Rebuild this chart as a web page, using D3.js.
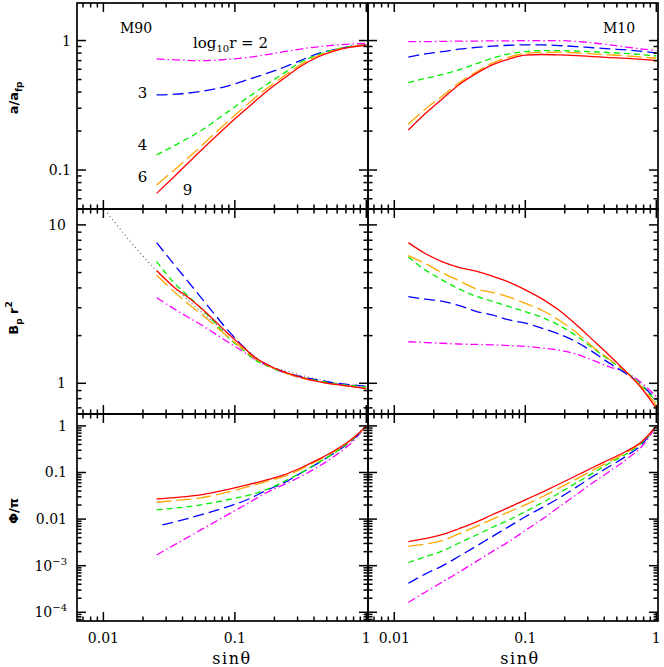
<!DOCTYPE html>
<html><head><meta charset="utf-8">
<script src="https://cdn.jsdelivr.net/npm/d3@7"></script>
<style>html,body{margin:0;padding:0;background:#fff;}</style>
</head><body>
<svg id="chart" width="664" height="667"></svg>
<script>
// ---------------- DATA ----------------
const seriesNames = ["2", "3", "4", "6", "9"];   // log10 r
// M90 (left column)
const sM90_a = [0.0254, 0.035, 0.055, 0.0877, 0.124, 0.177, 0.236, 0.316, 0.424, 0.567, 0.76, 1.0];
const aM90_r2 = [0.722, 0.71, 0.70, 0.715, 0.74, 0.78, 0.82, 0.86, 0.895, 0.92, 0.94, 0.95];
const aM90_r3 = [0.38, 0.385, 0.405, 0.445, 0.497, 0.56, 0.622, 0.70, 0.789, 0.85, 0.90, 0.925];
const aM90_r4 = [0.131, 0.155, 0.201, 0.28, 0.36, 0.462, 0.56, 0.68, 0.775, 0.848, 0.90, 0.925];
const aM90_r6 = [0.0766, 0.101, 0.152, 0.235, 0.32, 0.43, 0.53, 0.65, 0.76, 0.84, 0.895, 0.925];
const aM90_r9 = [0.066, 0.09, 0.141, 0.22, 0.30, 0.41, 0.51, 0.63, 0.743, 0.83, 0.89, 0.92];

const sM90_b = [0.0254, 0.035, 0.0435, 0.055, 0.0693, 0.0877, 0.11, 0.14, 0.18, 0.236, 0.32, 0.424, 0.6, 0.8, 1.0];
const bM90_r2 = [3.47, 2.93, 2.63, 2.35, 2.08, 1.83, 1.63, 1.43, 1.28, 1.17, 1.08, 1.03, 0.99, 0.97, 0.955];
const bM90_r3 = [7.73, 5.55, 4.45, 3.5, 2.76, 2.18, 1.78, 1.47, 1.3, 1.18, 1.1, 1.05, 1.0, 0.975, 0.955];
const bM90_r4 = [5.87, 4.25, 3.6, 2.98, 2.45, 1.97, 1.68, 1.42, 1.28, 1.17, 1.09, 1.04, 0.99, 0.965, 0.945];
const bM90_r6 = [4.83, 3.75, 3.2, 2.75, 2.34, 1.98, 1.7, 1.45, 1.29, 1.17, 1.08, 1.03, 0.98, 0.95, 0.925];
const bM90_r9 = [5.15, 4.0, 3.52, 3.0, 2.51, 2.08, 1.76, 1.47, 1.3, 1.18, 1.09, 1.03, 0.98, 0.95, 0.925];
const sDotted = [0.0107, 0.0242, 0.04, 0.07, 0.1, 0.157, 0.28, 0.5, 0.75, 1.0];
const bDotted = [11.9, 5.35, 3.6, 2.4, 1.9, 1.38, 1.16, 1.03, 0.97, 0.93];

const sM90_p = [0.0254, 0.035, 0.055, 0.0877, 0.124, 0.177, 0.236, 0.316, 0.424, 0.567, 0.76, 0.9, 1.0];
const sM90_p3 = [0.0281, 0.035, 0.055, 0.0877, 0.124, 0.177, 0.236, 0.316, 0.424, 0.567, 0.76, 0.9, 1.0];
const pM90_r2 = [0.0017, 0.00284, 0.00585, 0.0123, 0.0214, 0.038, 0.055, 0.0817, 0.13, 0.22, 0.42, 0.70, 1.0];
const pM90_r3 = [0.0075, 0.0087, 0.0123, 0.0183, 0.026, 0.0423, 0.06, 0.0965, 0.155, 0.259, 0.46, 0.72, 1.0];
const pM90_r4 = [0.0158, 0.0172, 0.0202, 0.026, 0.032, 0.044, 0.064, 0.097, 0.158, 0.26, 0.47, 0.73, 1.0];
const pM90_r6 = [0.023, 0.025, 0.0285, 0.038, 0.049, 0.065, 0.082, 0.117, 0.178, 0.28, 0.49, 0.74, 1.0];
const pM90_r9 = [0.0271, 0.029, 0.033, 0.043, 0.054, 0.07, 0.089, 0.125, 0.186, 0.29, 0.50, 0.75, 1.0];

// M10 (right column)
const sM10 = [0.0128, 0.0172, 0.0231, 0.031, 0.042, 0.0558, 0.075, 0.1, 0.135, 0.18, 0.244, 0.327, 0.438, 0.589, 0.78, 1.0];
const aM10_r2 = [0.98, 0.98, 0.985, 0.99, 0.99, 0.995, 0.995, 1.0, 1.0, 1.0, 0.985, 0.96, 0.926, 0.89, 0.86, 0.837];
const aM10_r3 = [0.744, 0.79, 0.82, 0.858, 0.885, 0.905, 0.92, 0.926, 0.925, 0.915, 0.899, 0.88, 0.862, 0.847, 0.825, 0.80];
const aM10_r4 = [0.473, 0.51, 0.545, 0.593, 0.66, 0.73, 0.79, 0.822, 0.835, 0.837, 0.83, 0.82, 0.808, 0.795, 0.778, 0.76];
const aM10_r6 = [0.226, 0.295, 0.37, 0.469, 0.57, 0.669, 0.745, 0.795, 0.81, 0.813, 0.805, 0.79, 0.775, 0.762, 0.745, 0.73];
const aM10_r9 = [0.204, 0.272, 0.352, 0.454, 0.555, 0.649, 0.72, 0.772, 0.78, 0.775, 0.765, 0.752, 0.739, 0.728, 0.715, 0.70];

const bM10_r2 = [1.83, 1.81, 1.79, 1.77, 1.76, 1.75, 1.73, 1.71, 1.67, 1.62, 1.53, 1.4, 1.27, 1.17, 1.0, 0.823];
const bM10_r3 = [3.52, 3.4, 3.3, 3.1, 2.85, 2.7, 2.51, 2.4, 2.22, 2.05, 1.83, 1.58, 1.34, 1.15, 0.97, 0.786];
const bM10_r4 = [6.28, 5.2, 4.5, 3.95, 3.55, 3.3, 3.05, 2.83, 2.6, 2.33, 2.0, 1.67, 1.4, 1.18, 0.96, 0.765];
const bM10_r6 = [6.4, 5.7, 5.0, 4.45, 3.95, 3.75, 3.5, 3.2, 2.88, 2.51, 2.1, 1.7, 1.42, 1.18, 0.94, 0.73];
const bM10_r9 = [7.73, 6.6, 5.87, 5.4, 5.1, 4.75, 4.35, 3.89, 3.4, 2.9, 2.35, 1.88, 1.5, 1.18, 0.92, 0.695];

const pM10_r2 = [0.000162, 0.00027, 0.00044, 0.00072, 0.00122, 0.0020, 0.0033, 0.0057, 0.0100, 0.0180, 0.0330, 0.060, 0.105, 0.19, 0.37, 1.0];
const pM10_r3 = [0.00042, 0.00066, 0.00098, 0.00157, 0.0026, 0.0042, 0.0069, 0.0112, 0.0178, 0.028, 0.048, 0.082, 0.134, 0.225, 0.41, 1.0];
const pM10_r4 = [0.00117, 0.00155, 0.00205, 0.00303, 0.0045, 0.0066, 0.0096, 0.0145, 0.0225, 0.0359, 0.059, 0.097, 0.158, 0.25, 0.44, 1.0];
const pM10_r6 = [0.0026, 0.0029, 0.00346, 0.0048, 0.0069, 0.0099, 0.0143, 0.0202, 0.0302, 0.046, 0.072, 0.112, 0.172, 0.265, 0.46, 1.0];
const pM10_r9 = [0.00329, 0.0038, 0.00465, 0.0062, 0.0086, 0.0124, 0.0178, 0.0258, 0.038, 0.056, 0.085, 0.128, 0.19, 0.285, 0.47, 1.0];

const xTickLabels = ["0.01", "0.1", "1"];
const xTickValues = [0.01, 0.1, 1];
const yTickValues = [[0.1, 1], [1, 10], [1e-4, 1e-3, 0.01, 0.1, 1]];
const yTickLabels = [["0.1", "1"], ["1", "10"], [["10", "−4"], ["10", "−3"], "0.01", "0.1", "1"]];
const panelTitles = ["M90", "M10"];

// ---------------- LAYOUT / STYLE ----------------
const colX = [[77, 368], [368, 658]];
const rowY = [[3, 209], [209, 414], [414, 621]];
const xDomain = [0.0063, 1.03];
const yDomains = [[0.05, 1.95], [0.64, 12.6], [6.5e-5, 1.8]];
const styles = {
  "2": {color: "#ff00ff", dash: "8,3,1.5,3"},
  "3": {color: "#0000ff", dash: "11,5"},
  "4": {color: "#00ee00", dash: "6,4"},
  "6": {color: "#ffa500", dash: "15,5"},
  "9": {color: "#ff0000", dash: null},
  "dot": {color: "#555", dash: "1,3"}
};
const serif = "'DejaVu Serif', serif";
const sans = "'DejaVu Sans', sans-serif";

function mk(s, v) { return s.map((x, i) => [x, v[i]]); }
const panels = [
  [{s: sM90_a, vals: [aM90_r2, aM90_r3, aM90_r4, aM90_r6, aM90_r9]},
   {s: sM10, vals: [aM10_r2, aM10_r3, aM10_r4, aM10_r6, aM10_r9]}],
  [{s: sM90_b, vals: [bM90_r2, bM90_r3, bM90_r4, bM90_r6, bM90_r9], extra: mk(sDotted, bDotted)},
   {s: sM10, vals: [bM10_r2, bM10_r3, bM10_r4, bM10_r6, bM10_r9]}],
  [{s: sM90_p, vals: [pM90_r2, pM90_r3, pM90_r4, pM90_r6, pM90_r9], sAlt: {1: sM90_p3}},
   {s: sM10, vals: [pM10_r2, pM10_r3, pM10_r4, pM10_r6, pM10_r9]}]
];

const svg = d3.select("#chart");
const defs = svg.append("defs");

function logTicks(dom) {
  const lo = Math.floor(Math.log10(dom[0])) , hi = Math.ceil(Math.log10(dom[1]));
  const major = [], minor = [];
  for (let e = lo; e <= hi; e++) {
    const b = Math.pow(10, e);
    if (b >= dom[0] && b <= dom[1]) major.push(b);
    for (let k = 2; k <= 9; k++) { const v = k * b; if (v >= dom[0] && v <= dom[1]) minor.push(v); }
  }
  return {major, minor};
}

const MAJ = 9, MIN = 4.5;
for (let r = 0; r < 3; r++) {
  for (let c = 0; c < 2; c++) {
    const [x0, x1] = colX[c], [y0, y1] = rowY[r];
    const xs = d3.scaleLog().domain(xDomain).range([x0, x1]);
    const ys = d3.scaleLog().domain(yDomains[r]).range([y1, y0]);
    const g = svg.append("g");
    const cid = `clip${r}${c}`;
    defs.append("clipPath").attr("id", cid).append("rect")
      .attr("x", x0).attr("y", y0).attr("width", x1 - x0).attr("height", y1 - y0);
    const curveG = g.append("g").attr("clip-path", `url(#${cid})`);
    const line = d3.line().x(d => xs(d[0])).y(d => ys(d[1])).curve(d3.curveMonotoneX);
    const P = panels[r][c];
    if (P.extra) {
      curveG.append("path").attr("d", line(P.extra)).attr("fill", "none")
        .attr("stroke", styles.dot.color).attr("stroke-width", 1.1).attr("stroke-dasharray", styles.dot.dash);
    }
    P.vals.forEach((vals, i) => {
      const name = seriesNames[i];
      const s = (P.sAlt && P.sAlt[i]) ? P.sAlt[i] : P.s;
      const st = styles[name];
      const p = curveG.append("path").attr("d", line(mk(s, vals))).attr("fill", "none")
        .attr("stroke", st.color).attr("stroke-width", 1.3);
      if (st.dash) p.attr("stroke-dasharray", st.dash);
    });
    const tg = g.append("g").attr("stroke", "#000").attr("stroke-width", 1.5);
    const xt = logTicks(xDomain), yt = logTicks(yDomains[r]);
    [[xt.major, MAJ], [xt.minor, MIN]].forEach(([arr, L]) => arr.forEach(v => {
      const x = xs(v);
      tg.append("line").attr("x1", x).attr("x2", x).attr("y1", y1).attr("y2", y1 - L);
      tg.append("line").attr("x1", x).attr("x2", x).attr("y1", y0).attr("y2", y0 + L);
    }));
    [[yt.major, MAJ], [yt.minor, MIN]].forEach(([arr, L]) => arr.forEach(v => {
      const y = ys(v);
      tg.append("line").attr("x1", x0).attr("x2", x0 + L).attr("y1", y).attr("y2", y);
      tg.append("line").attr("x1", x1).attr("x2", x1 - L).attr("y1", y).attr("y2", y);
    }));
    g.append("rect").attr("x", x0).attr("y", y0).attr("width", x1 - x0).attr("height", y1 - y0)
      .attr("fill", "none").attr("stroke", "#000").attr("stroke-width", 1.7);

    if (c === 0) {
      const rightEdge = [71, 66, 67][r];
      yTickValues[r].forEach((v, i) => {
        const lab = yTickLabels[r][i];
        const t = svg.append("text").attr("x", rightEdge).attr("y", ys(v) + 5)
          .attr("text-anchor", "end").attr("font-family", serif).attr("font-size", 14).attr("fill", "#000");
        if (Array.isArray(lab)) {
          t.append("tspan").text(lab[0]);
          t.append("tspan").attr("font-size", 10).attr("dy", -6).text(lab[1]);
        } else t.text(lab);
      });
    }
    if (r === 2) {
      xTickValues.forEach((v, i) => {
        svg.append("text").attr("x", xs(v)).attr("y", 643).attr("text-anchor", "middle")
          .attr("font-family", serif).attr("font-size", 14).attr("fill", "#000").text(xTickLabels[i]);
      });
      svg.append("text").attr("x", c === 0 ? 232 : 520).attr("y", 664).attr("text-anchor", "middle")
        .attr("font-family", serif).attr("font-size", 16).attr("letter-spacing", 1.5).attr("fill", "#000").text("sinθ");
    }
  }
}

svg.append("text").attr("x", 120).attr("y", 33).attr("font-family", serif).attr("font-size", 14).text(panelTitles[0]);
svg.append("text").attr("x", 603).attr("y", 33).attr("font-family", serif).attr("font-size", 14).text(panelTitles[1]);

const lg = svg.append("text").attr("x", 193).attr("y", 48).attr("font-family", serif).attr("font-size", 15);
lg.append("tspan").text("log");
lg.append("tspan").attr("font-size", 10).attr("dy", 4).text("10");
lg.append("tspan").attr("dy", -4).text("r  =  " + seriesNames[0]);
const labPos = {"3": [142.5, 98], "4": [142.5, 150], "6": [142.5, 182], "9": [187.5, 195]};
Object.entries(labPos).forEach(([k, p]) => {
  svg.append("text").attr("x", p[0]).attr("y", p[1]).attr("text-anchor", "middle")
    .attr("font-family", serif).attr("font-size", 15).text(k);
});

function yTitle(cy, build) {
  const t = svg.append("text").attr("transform", `translate(18,${cy}) rotate(-90)`)
    .attr("text-anchor", "middle").attr("font-family", sans).attr("font-weight", "bold").attr("font-size", 13);
  build(t);
}
yTitle(98, t => { t.append("tspan").text("a/a"); t.append("tspan").attr("font-size", 9).attr("dy", 4).text("fp"); });
yTitle(318, t => { t.append("tspan").text("B"); t.append("tspan").attr("font-size", 9).attr("dy", 4).text("p");
  t.append("tspan").attr("dy", -4).text(" r"); t.append("tspan").attr("font-size", 9).attr("dy", -6).text("2"); });
yTitle(511, t => { t.text("Φ/π"); });
</script>
</body></html>
